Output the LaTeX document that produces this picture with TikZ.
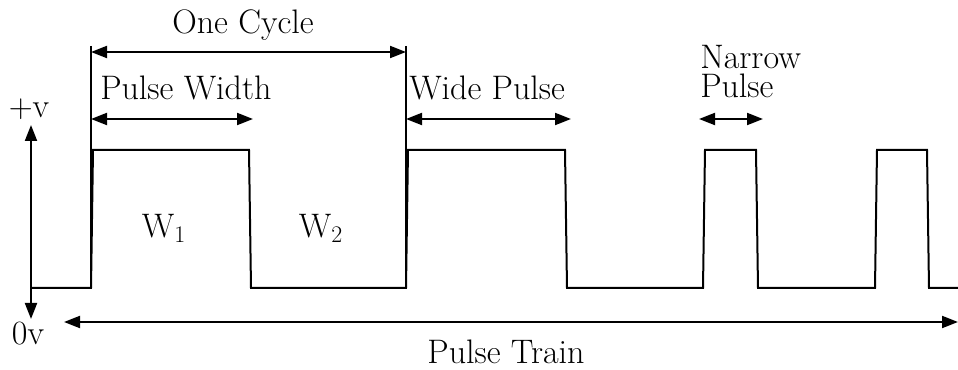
\documentclass[tikz,border=0pt]{standalone}
\usepackage{amsmath}
\usepackage{tikz}
\usetikzlibrary{arrows.meta, positioning}

\tikzset{
  wave/.style={line width=1.5, line join=miter},
  dimarrow/.style={line width=1.5, {Triangle[length=12pt,width=9pt]}-{Triangle[length=12pt,width=9pt]}},
  lbl/.style={font=\fontsize{25.5}{28}\selectfont, inner sep=0pt}
}

\begin{document}
\begin{tikzpicture}[x=0.75pt,y=0.75pt,yscale=-1,xscale=1]
\useasboundingbox (0,0) rectangle (958,370);

%Pulse train waveform
\draw [wave] (31,288) -- (91,288) -- (93,150) -- (249,150) -- (251,288) -- (406,288) -- (408,150) -- (565,150) -- (567,288) -- (703,288) -- (705,150) -- (756,150) -- (758,288) -- (875,288) -- (877,150) -- (927,150) -- (929,288) -- (958,288) ;

%Cycle markers
\coordinate (c1top) at (91,46) ;
\coordinate (c1bot) at (91,288) ;
\coordinate (c2top) at (406,46) ;
\coordinate (c2bot) at (406,288) ;
\draw [line width=1.5] (c1top) -- (c1bot) ;
\draw [line width=1.5] (c2top) -- (c2bot) ;

%Voltage axis
\coordinate (vtop) at (31,125) ;
\coordinate (vbot) at (31,319) ;
\draw [dimarrow] (vbot) -- (vtop) ;
\node [lbl] (plusv) at (29,109) {$+$v} ;
\node [lbl] (zerov) at (28,334) {0v} ;

%One cycle
\coordinate (cycL) at (91,52) ;
\coordinate (cycR) at (406,52) ;
\draw [dimarrow] (cycL) -- (cycR) ;
\node [lbl] (cycle) at (243,25) {One Cycle} ;

%Pulse width
\coordinate (pwL) at (91,119) ;
\coordinate (pwR) at (253,119) ;
\draw [dimarrow] (pwL) -- (pwR) ;
\node [lbl, anchor=west] (pwidth) at (100,88) {Pulse Width} ;

%Wide pulse
\coordinate (wpL) at (406,119) ;
\coordinate (wpR) at (571,119) ;
\draw [dimarrow] (wpL) -- (wpR) ;
\node [lbl, anchor=west] (wide) at (409,88) {Wide Pulse} ;

%Narrow pulse
\coordinate (npL) at (699,119) ;
\coordinate (npR) at (763,119) ;
\draw [dimarrow] (npL) -- (npR) ;
\node [lbl, anchor=base west] (narrow) at (700,69) {Narrow} ;
\node [lbl, anchor=base west] (narrowb) at (700,98) {Pulse} ;

%Pulse train arrow
\coordinate (ptL) at (64,322) ;
\coordinate (ptR) at (958,322) ;
\draw [dimarrow] (ptL) -- (ptR) ;
\node [lbl] (train) at (506,352) {Pulse Train} ;

%Width labels
\node [lbl] (w1) at (164,228) {W$_{\text{1}}$} ;
\node [lbl] (w2) at (321,228) {W$_{\text{2}}$} ;

\end{tikzpicture}
\end{document}
